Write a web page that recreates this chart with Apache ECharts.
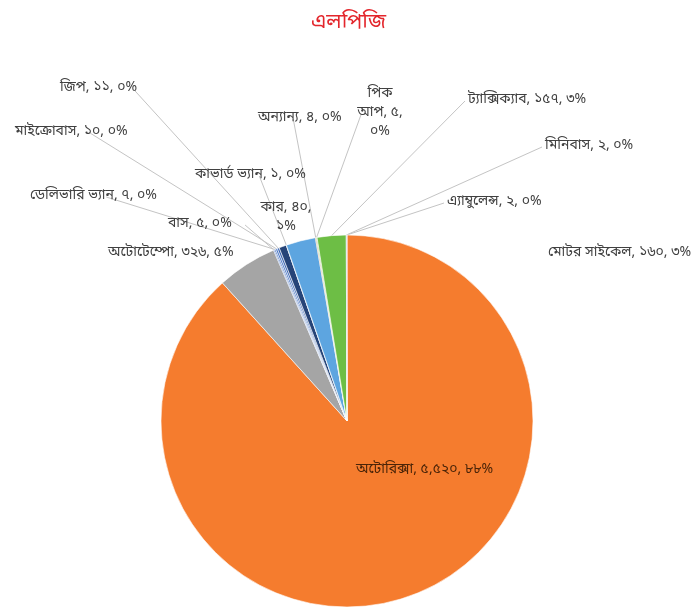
<!DOCTYPE html>
<html>
<head>
<meta charset="utf-8">
<script src="https://cdn.jsdelivr.net/npm/echarts@6/dist/echarts.min.js"></script>
<style>
  html, body { margin: 0; padding: 0; background: #ffffff; }
  #chart { width: 697px; height: 609px; }
</style>
</head>
<body>
<div id="chart"></div>
<script>
// LPG-converted vehicles by type
const chartTitle = 'এলপিজি';

const categories = [
  'অটোরিক্সা', 'অটোটেম্পো', 'বাস', 'ডেলিভারি ভ্যান', 'মাইক্রোবাস', 'জিপ', 'কার',
  'কাভার্ড ভ্যান', 'মোটর সাইকেল', 'অন্যান্য', 'পিক আপ', 'ট্যাক্সিক্যাব', 'মিনিবাস', 'এ্যাম্বুলেন্স'
];
const vehicleCounts = [5520, 326, 5, 7, 10, 11, 40, 1, 160, 4, 5, 157, 2, 2];

const sliceColors = [
  '#F57C2E', '#A5A5A5', '#4472C4', '#3E69B8', '#4A78C8', '#3A64B0', '#264478',
  '#5B9BD5', '#5DA5E0', '#9E480E', '#8CC168', '#6DBE45', '#636363', '#4472C4'
];

// where each label sits: anchor x, middle y, text alignment, word breaks, leader line
const labelSpots = [
  { x: 356, y: 470, align: 'left',   breaks: [],     line: false },
  { x: 108, y: 253, align: 'left',   breaks: [],     line: false },
  { x: 168, y: 224, align: 'left',   breaks: [],     line: true },
  { x: 30,  y: 196, align: 'left',   breaks: [],     line: true },
  { x: 15,  y: 132, align: 'left',   breaks: [],     line: true },
  { x: 60,  y: 88,  align: 'left',   breaks: [],     line: true },
  { x: 286, y: 218, align: 'center', breaks: [1],    line: false },
  { x: 195, y: 175, align: 'left',   breaks: [],     line: true },
  { x: 548, y: 253, align: 'left',   breaks: [],     line: false },
  { x: 258, y: 118, align: 'left',   breaks: [],     line: true },
  { x: 380, y: 113, align: 'center', breaks: [0, 2], line: true },
  { x: 468, y: 100, align: 'left',   breaks: [],     line: true },
  { x: 545, y: 146, align: 'left',   breaks: [],     line: true },
  { x: 447, y: 202, align: 'left',   breaks: [],     line: true }
];

const bnDigits = '০১২৩৪৫৬৭৮৯';
function toBengali(str) {
  return String(str).replace(/\d/g, d => bnDigits[+d]);
}

const fontStack = "'Noto Sans Bengali', 'Noto Sans', 'DejaVu Sans', sans-serif";

const pieData = categories.map((name, i) => {
  const item = {
    name: name,
    value: vehicleCounts[i],
    itemStyle: { color: sliceColors[i] },
    labelLine: { show: labelSpots[i].line }
  };
  if (i === 0) {
    item.label = { position: 'inside', color: '#4A2408', fontSize: 14 };
  }
  return item;
});

const chart = echarts.init(document.getElementById('chart'), null, { renderer: 'canvas' });

chart.setOption({
  backgroundColor: '#ffffff',
  animation: false,
  title: {
    text: chartTitle,
    left: 'center',
    top: 8,
    textStyle: { color: '#E3262C', fontSize: 21, fontWeight: 'normal', fontFamily: fontStack }
  },
  series: [{
    type: 'pie',
    center: [347, 421],
    radius: 186,
    startAngle: 90,
    clockwise: true,
    avoidLabelOverlap: false,
    minAngle: 0,
    itemStyle: { borderColor: '#ffffff', borderWidth: 0.6 },
    label: {
      show: true,
      position: 'outside',
      color: '#404040',
      fontSize: 14,
      fontFamily: fontStack,
      lineHeight: 19,
      formatter: function (p) {
        const val = toBengali(p.value.toLocaleString('en-US'));
        const pct = toBengali(Math.round(p.percent));
        const words = (p.name + ', ' + val + ', ' + pct + '%').split(' ');
        const breaks = labelSpots[p.dataIndex].breaks;
        return words.map((w, k) => w + (k === words.length - 1 ? '' : (breaks.indexOf(k) >= 0 ? '\n' : ' '))).join('');
      }
    },
    labelLine: {
      show: true,
      length: 8,
      length2: 0,
      lineStyle: { color: '#C4C4C4', width: 1 }
    },
    labelLayout: function (p) {
      const s = labelSpots[p.dataIndex];
      const w = p.rect.width, h = p.rect.height;
      const left = s.align === 'center' ? s.x - w / 2 : s.x;
      const top = s.y - h / 2;
      const out = { x: s.x, y: s.y, align: s.align, verticalAlign: 'middle' };
      const pts = p.labelLinePoints;
      if (s.line && pts && pts.length) {
        const a = pts[0];
        let end;
        if (a[0] > left + w) end = [left + w + 3, s.y + 1];
        else if (a[0] < left) end = [left - 3, s.y + 1];
        else end = [a[0], top + h + 1];
        out.labelLinePoints = [a, end, end];
      }
      return out;
    },
    data: pieData
  }]
});
</script>
</body>
</html>
